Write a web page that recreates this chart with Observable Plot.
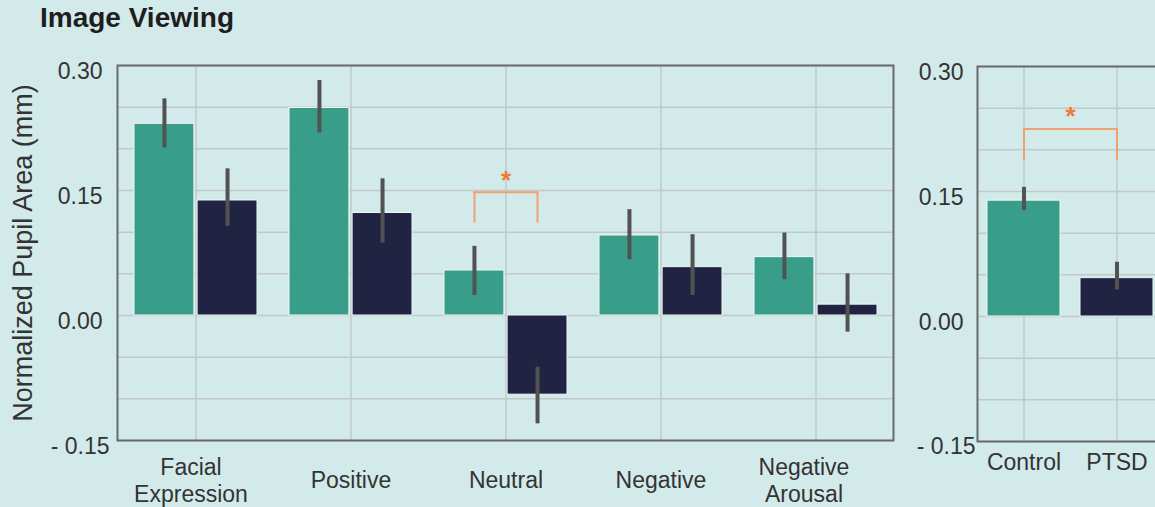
<!DOCTYPE html>
<html><head><meta charset="utf-8">
<script src="https://cdn.jsdelivr.net/npm/d3@7"></script>
<script src="https://cdn.jsdelivr.net/npm/@observablehq/plot@0.6"></script>
<style>
html,body{margin:0;padding:0;background:#d3eaea;}
#wrap{position:relative;width:1155px;height:507px;overflow:hidden;background:#d3eaea;font-family:"Liberation Sans",Arial,sans-serif;}
#title{position:absolute;left:40px;top:4px;font-size:28px;font-weight:bold;line-height:1;color:#1e1e1e;white-space:nowrap;}
#left{position:absolute;left:0;top:0;width:900px;}
#right{position:absolute;left:900px;top:0;width:270px;}
#wrap svg{max-width:none !important;}
</style></head><body>
<div id="wrap"><div id="title">Image Viewing</div><div id="left"></div><div id="right"></div></div>
<script>
// ---- data ----
const categories = ["Facial\nExpression", "Positive", "Neutral", "Negative", "Negative\nArousal"];
const controlMean = [0.230, 0.249, 0.054, 0.096, 0.070];
const controlLow  = [0.201, 0.219, 0.024, 0.067, 0.043];
const controlHigh = [0.260, 0.282, 0.083, 0.127, 0.099];
const ptsdMean = [0.138, 0.123, -0.095, 0.058, 0.013];
const ptsdLow  = [0.107, 0.087, -0.130, 0.024, -0.020];
const ptsdHigh = [0.176, 0.164, -0.062, 0.097, 0.050];

const groups = ["Control", "PTSD"];
const overallMean = [0.139, 0.046];
const overallLow  = [0.127, 0.032];
const overallHigh = [0.155, 0.065];

const yTicks = [-0.15, 0.00, 0.15, 0.30];
const yTickLabels = ["- 0.15", "0.00", "0.15", "0.30"];
const yGrid = [-0.15, -0.10, -0.05, 0.00, 0.05, 0.10, 0.15, 0.20, 0.25, 0.30];

const sigCategory = "Neutral";
const sigLeftBar = 0.148, sigLeftEnd = 0.111, sigLeftStar = 0.169;
const sigRightBar = 0.225, sigRightEnd = 0.189, sigRightStar = 0.247;

const yLabel = "Normalized Pupil Area (mm)";

// ---- styles ----
const GREEN = "#389e89", NAVY = "#202342", ERR = "#525252", GRID = "#c2c8c8",
      FRAME = "#676b6b", SIG_LINE = "#f0a170", SIG_STAR = "#f07a3a", TXT = "#333";
const font = '"Liberation Sans", Arial, sans-serif';
const fmt = d => yTickLabels[yTicks.findIndex(t => Math.abs(t - d) < 1e-9)];
const posTicks = yTicks.filter(t => t >= 0);
const negTicks = yTicks.filter(t => t < 0);

const rows = categories.map((c, i) => ({
  category: c, control: controlMean[i], cLo: controlLow[i], cHi: controlHigh[i],
  ptsd: ptsdMean[i], pLo: ptsdLow[i], pHi: ptsdHigh[i]
}));
const overall = groups.map((g, i) => ({group: g, mean: overallMean[i], lo: overallLow[i], hi: overallHigh[i]}));

// ---- left panel ----
const LW = 900, LML = 117, LMR = 7;
const band = (LW - LML - LMR) / categories.length;
const outer = 16, gap = 1.5, half = band / 2;
const off = (half - outer - gap) / 2 + gap; // center offset of each bar
const xAxisOpts = {tickSize: 0, tickPadding: 39, fontSize: 23, lineAnchor: "middle", lineHeight: 1.2, label: null};

const left = Plot.plot({
  width: LW, height: 507, marginLeft: LML, marginRight: LMR, marginTop: 65, marginBottom: 67,
  style: {background: "transparent", fontFamily: font, color: TXT, overflow: "visible"},
  x: {domain: categories, padding: 0, label: null},
  y: {domain: [-0.15, 0.30], label: null},
  marks: [
    Plot.gridY(yGrid, {stroke: GRID, strokeOpacity: 1, strokeWidth: 1.5}),
    Plot.gridX({stroke: GRID, strokeOpacity: 1, strokeWidth: 1.5}),
    Plot.barY(rows, {x: "category", y: "control", fill: GREEN, insetLeft: outer, insetRight: half + gap, stroke: "#eef7f7", strokeWidth: 1}),
    Plot.barY(rows, {x: "category", y: "ptsd", fill: NAVY, insetLeft: half + gap, insetRight: outer, stroke: "#eef7f7", strokeWidth: 1}),
    Plot.ruleX(rows, {x: "category", y1: "cLo", y2: "cHi", dx: -off, stroke: ERR, strokeWidth: 4}),
    Plot.ruleX(rows, {x: "category", y1: "pLo", y2: "pHi", dx: off, stroke: ERR, strokeWidth: 4}),
    Plot.ruleX([sigCategory], {x: d => d, y1: sigLeftEnd, y2: sigLeftBar, dx: -off, stroke: SIG_LINE, strokeWidth: 2}),
    Plot.ruleX([sigCategory], {x: d => d, y1: sigLeftEnd, y2: sigLeftBar, dx: off, stroke: SIG_LINE, strokeWidth: 2}),
    Plot.tickY([sigCategory], {x: d => d, y: () => sigLeftBar, insetLeft: half - off - 1, insetRight: half - off - 1, stroke: SIG_LINE, strokeWidth: 2}),
    Plot.text([sigCategory], {x: d => d, y: () => sigLeftStar, text: () => "*", fill: SIG_STAR, fontSize: 26, fontWeight: "bold", dy: 6}),
    Plot.frame({stroke: FRAME, strokeWidth: 2}),
    Plot.axisY(posTicks, {tickFormat: fmt, tickSize: 0, tickPadding: 15, fontSize: 23, dy: 6, label: null}),
    Plot.axisY(negTicks, {tickFormat: fmt, tickSize: 0, tickPadding: 8, fontSize: 23, dy: 6, label: null}),
    Plot.axisX([categories[0]], {...xAxisOpts, dx: -5}),
    Plot.axisX(categories.slice(1, 4), xAxisOpts),
    Plot.axisX([categories[4]], {...xAxisOpts, dx: -12}),
    Plot.text([yLabel], {text: d => d, frameAnchor: "left", rotate: -90, dx: -94, fontSize: 27, fill: TXT, lineAnchor: "middle", textAnchor: "middle"})
  ]
});
document.getElementById("left").appendChild(left);

// ---- right panel ----
const right = Plot.plot({
  width: 270, height: 507, marginLeft: 77, marginRight: 7, marginTop: 66, marginBottom: 66,
  style: {background: "transparent", fontFamily: font, color: TXT, overflow: "visible"},
  x: {domain: groups, paddingInner: 0.215, paddingOuter: 0.107, label: null},
  y: {domain: [-0.15, 0.30], label: null},
  marks: [
    Plot.gridY(yGrid, {stroke: GRID, strokeOpacity: 1, strokeWidth: 1.5}),
    Plot.gridX({stroke: GRID, strokeOpacity: 1, strokeWidth: 1.5}),
    Plot.barY(overall, {x: "group", y: "mean", fill: d => d.group === "Control" ? GREEN : NAVY, stroke: "#eef7f7", strokeWidth: 1}),
    Plot.ruleX(overall, {x: "group", y1: "lo", y2: "hi", stroke: ERR, strokeWidth: 4}),
    Plot.line([[groups[0], sigRightEnd], [groups[0], sigRightBar], [groups[1], sigRightBar], [groups[1], sigRightEnd]],
      {x: d => d[0], y: d => d[1], stroke: SIG_LINE, strokeWidth: 2, curve: "linear"}),
    Plot.text(["*"], {frameAnchor: "middle", y: () => sigRightStar, text: d => d, fill: SIG_STAR, fontSize: 26, fontWeight: "bold", dy: 6}),
    Plot.frame({stroke: FRAME, strokeWidth: 2}),
    Plot.axisY(posTicks, {tickFormat: fmt, tickSize: 0, tickPadding: 14, fontSize: 23, dy: 6, label: null}),
    Plot.axisY(negTicks, {tickFormat: fmt, tickSize: 0, tickPadding: 2, fontSize: 23, dy: 5, label: null}),
    Plot.axisX({tickSize: 0, tickPadding: 12, fontSize: 23, label: null})
  ]
});
document.getElementById("right").appendChild(right);
</script>
</body></html>
